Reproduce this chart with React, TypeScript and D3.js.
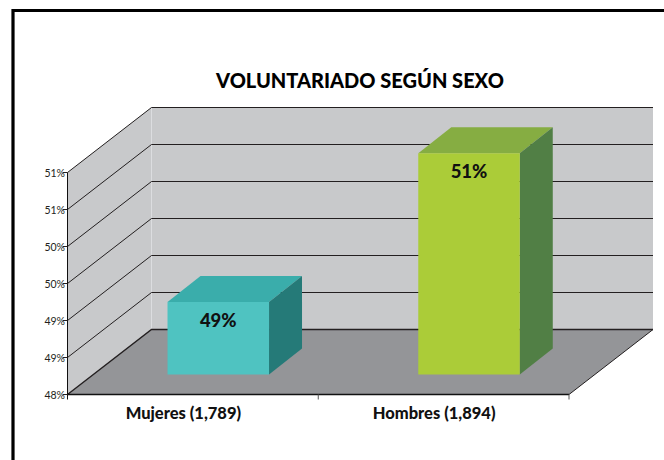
import React from "react";
import * as d3 from "d3";

const categories = ["Mujeres (1,789)", "Hombres (1,894)"];
const values = [48.98, 50.99];
const valueLabels = ["49%", "51%"];
const tickValues = [48, 48.5, 49, 49.5, 50, 50.5, 51];
const barColors = [
  { front: "#4fc3c1", top: "#3aadab", side: "#257a78" },
  { front: "#abcc38", top: "#86ad42", side: "#517f45" },
];

const FONT = "Lato, 'Open Sans', sans-serif";
const y = d3.scaleLinear().domain([48, 51]).range([394.5, 172.5]);
const x = d3.scaleBand().domain(categories).range([67.5, 569]);
const depth = { dx: 84, dy: -65 };
const barOffset = { dx: 25.4, dy: -20 };
const barDepth = { dx: 33, dy: -26 };
const barWidth = 101.5;
const poly = (pts: [number, number][]) => pts.map((p) => p.join(",")).join(" ");

export default function App() {
  const [x0, x1] = x.range();
  const y0 = y(48);
  const yT = y(51);
  return (
    <svg
      width={664}
      height={460}
      style={{ position: "absolute", left: 0, top: 0, background: "#fff" }}
      fontFamily={FONT}
    >
      <path d="M13 460V10.5H664" fill="none" stroke="#000" strokeWidth={3.2} />
      <text x={360} y={88} textAnchor="middle" fontSize={20} fontWeight={900} fill="#000">
        VOLUNTARIADO SEGÚN SEXO
      </text>

      {/* back wall */}
      <rect x={x0 + depth.dx} y={yT + depth.dy} width={x1 - x0} height={y0 - yT} fill="#c8c9cb" />
      {/* left wall */}
      <polygon
        points={poly([
          [x0, y0],
          [x0, yT],
          [x0 + depth.dx, yT + depth.dy],
          [x0 + depth.dx, y0 + depth.dy],
        ])}
        fill="#c8c9cb"
      />
      <line x1={x0 + depth.dx} x2={x0 + depth.dx} y1={yT + depth.dy} y2={y0 + depth.dy} stroke="#dcdde0" strokeWidth={1} />
      {/* floor */}
      <polygon
        points={poly([
          [x0, y0],
          [x1, y0],
          [x1 + depth.dx, y0 + depth.dy],
          [x0 + depth.dx, y0 + depth.dy],
        ])}
        fill="#949598"
      />

      {/* gridlines */}
      {tickValues.map((t) => (
        <path
          key={t}
          d={`M${x0} ${y(t)}L${x0 + depth.dx} ${y(t) + depth.dy}H${x1 + depth.dx}`}
          fill="none"
          stroke="#231f20"
          strokeWidth={t === 48 ? 1.4 : 1}
        />
      ))}
      <line x1={x1} y1={y0} x2={x1 + depth.dx} y2={y0 + depth.dy} stroke="#231f20" strokeWidth={1} />

      {/* axes */}
      <line x1={x0} x2={x0} y1={yT} y2={y0 + 5} stroke="#111" strokeWidth={1} />
      <line x1={x0} x2={x1} y1={y0} y2={y0} stroke="#111" strokeWidth={1.4} />
      {x.domain().map((c) => (
        <line key={c} x1={x(c)! + x.bandwidth()} x2={x(c)! + x.bandwidth()} y1={y0} y2={y0 + 5} stroke="#555" strokeWidth={1} />
      ))}
      {tickValues.map((t) => (
        <g key={t}>
          <line x1={x0 - 5} x2={x0} y1={y(t)} y2={y(t)} stroke="#231f20" strokeWidth={1} />
          <text x={x0 - 2.5} y={y(t) + 4} textAnchor="end" fontSize={10.5} fill="#231f20">
            {`${d3.format(".0f")(t + (t % 1 ? 0.001 : 0))}%`}
          </text>
        </g>
      ))}

      {/* bars */}
      {categories.map((c, i) => {
        const l = x(c)! + (x.bandwidth() - barWidth) / 2 + barOffset.dx;
        const r = l + barWidth;
        const b = y0 + barOffset.dy;
        const t = y(values[i]) + barOffset.dy;
        const col = barColors[i];
        return (
          <g key={c}>
            <polygon
              points={poly([
                [l, t],
                [r, t],
                [r + barDepth.dx, t + barDepth.dy],
                [l + barDepth.dx, t + barDepth.dy],
              ])}
              fill={col.top}
            />
            <polygon
              points={poly([
                [r, t],
                [r, b],
                [r + barDepth.dx, b + barDepth.dy],
                [r + barDepth.dx, t + barDepth.dy],
              ])}
              fill={col.side}
            />
            <rect x={l} y={t} width={barWidth} height={b - t} fill={col.front} />
            <text x={(l + r) / 2} y={t + 25} textAnchor="middle" fontSize={18.5} fontWeight={900} fill="#111">
              {valueLabels[i]}
            </text>
          </g>
        );
      })}

      {/* category labels */}
      {categories.map((c) => (
        <text key={c} x={x(c)! + x.bandwidth() / 2 - 9.5} y={419} textAnchor="middle" fontSize={16.5} fontWeight={900} fill="#111">
          {c}
        </text>
      ))}
    </svg>
  );
}
